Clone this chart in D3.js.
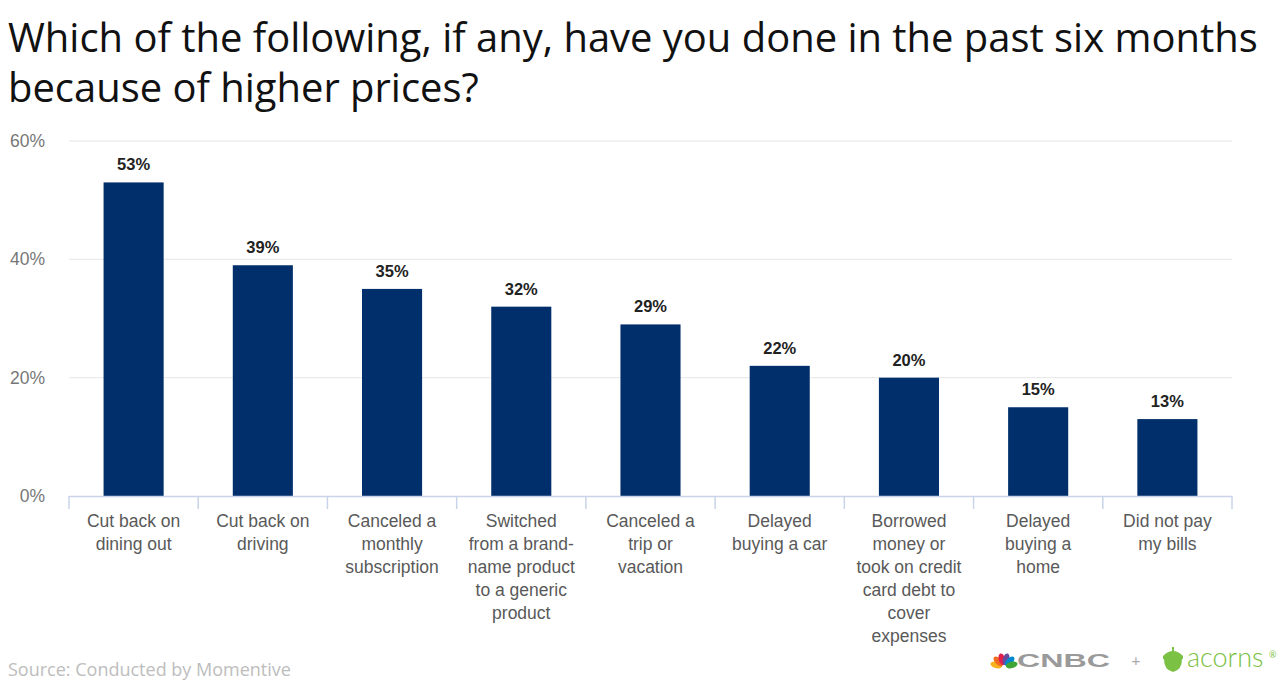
<!DOCTYPE html>
<html><head><meta charset="utf-8">
<script src="https://cdn.jsdelivr.net/npm/d3@7/dist/d3.min.js"></script>
<style>
html,body{margin:0;padding:0;background:#fff;overflow:hidden;}
svg{display:block;}
</style></head>
<body>
<svg id="chart" width="1288" height="680"></svg>
<script>
const titleLines = ["Which of the following, if any, have you done in the past six months", "because of higher prices?"];
const categories = [
  ["Cut back on","dining out"],
  ["Cut back on","driving"],
  ["Canceled a","monthly","subscription"],
  ["Switched","from a brand-","name product","to a generic","product"],
  ["Canceled a","trip or","vacation"],
  ["Delayed","buying a car"],
  ["Borrowed","money or","took on credit","card debt to","cover","expenses"],
  ["Delayed","buying a","home"],
  ["Did not pay","my bills"]
];
const values = [53, 39, 35, 32, 29, 22, 20, 15, 13];
const yTicks = [0, 20, 40, 60];
const sourceText = "Source: Conducted by Momentive";

const svg = d3.select("#chart");
const L = 69, R = 1232, T = 141, B = 496;

const x = d3.scaleBand().domain(d3.range(values.length)).range([L, R]).paddingInner(0.535).paddingOuter(0.2675);
const xEdge = d3.scaleBand().domain(d3.range(values.length)).range([L, R]);
const y = d3.scaleLinear().domain([0, 60]).range([B, T]);

// title
const title = svg.append("g");
titleLines.forEach((t, i) => {
  title.append("text").attr("x", 8).attr("y", 52 + i * 50)
    .attr("font-family", "'Open Sans', Lato, sans-serif").attr("font-size", 36)
    .attr("fill", "#111").text(t);
});
const t0 = title.select("text").node();
const w0 = t0.getComputedTextLength();
title.selectAll("text").attr("font-size", 36 * 1250 / w0);

// gridlines
svg.append("g").selectAll("line").data(yTicks.filter(d => d > 0)).join("line")
  .attr("x1", L).attr("x2", R).attr("y1", d => y(d)).attr("y2", d => y(d))
  .attr("stroke", "#e6e6e6").attr("stroke-width", 1);

// y tick labels
svg.append("g").selectAll("text").data(yTicks).join("text")
  .attr("x", 45).attr("y", d => y(d) + 6).attr("text-anchor", "end")
  .attr("font-family", "'Liberation Sans', Arial, sans-serif").attr("font-size", 17.5)
  .attr("fill", "#777").text(d => d + "%");

// bars
svg.append("g").selectAll("rect").data(values).join("rect")
  .attr("x", (d, i) => x(i)).attr("width", x.bandwidth())
  .attr("y", d => y(d)).attr("height", d => B - y(d)).attr("fill", "#002f6c");

// value labels
svg.append("g").selectAll("text").data(values).join("text")
  .attr("x", (d, i) => x(i) + x.bandwidth() / 2).attr("y", d => y(d) - 12)
  .attr("text-anchor", "middle").attr("font-family", "'Liberation Sans', Arial, sans-serif")
  .attr("font-weight", "bold").attr("font-size", 16.5).attr("fill", "#222").text(d => d + "%");

// baseline and separators
svg.append("line").attr("x1", L).attr("x2", R).attr("y1", B + 0.5).attr("y2", B + 0.5)
  .attr("stroke", "#c9d4e8").attr("stroke-width", 1.5);
const edges = d3.range(values.length).map(i => xEdge(i)).concat([R]);
svg.append("g").selectAll("line").data(edges).join("line")
  .attr("x1", d => d).attr("x2", d => d).attr("y1", B).attr("y2", B + 13)
  .attr("stroke", "#c9d4e8").attr("stroke-width", 1.5);

// category labels
const cg = svg.append("g");
categories.forEach((lines, i) => {
  const tx = cg.append("text").attr("text-anchor", "middle")
    .attr("font-family", "'Liberation Sans', Arial, sans-serif").attr("font-size", 17.5).attr("fill", "#595959");
  lines.forEach((ln, j) => {
    tx.append("tspan").attr("x", xEdge(i) + xEdge.bandwidth() / 2).attr("y", 527 + j * 23).text(ln);
  });
});

// source
svg.append("text").attr("x", 8).attr("y", 676).attr("font-family", "'Open Sans', Lato, sans-serif")
  .attr("font-size", 18).attr("fill", "#bdbdbd").text(sourceText);

// logos
const lg = svg.append("g");
const peacock = ["#f7b11b", "#f26b21", "#e2204c", "#6a4a9b", "#0089d0", "#3fa535"];
const pcx = 1004, pcy = 667;
peacock.forEach((c, i) => {
  const a = -Math.PI + (i + 0.5) * Math.PI / 6;
  lg.append("ellipse").attr("cx", pcx + Math.cos(a) * 8).attr("cy", pcy + Math.sin(a) * 8)
    .attr("rx", 3.2).attr("ry", 6).attr("fill", c)
    .attr("transform", `rotate(${a * 180 / Math.PI + 90},${pcx + Math.cos(a) * 8},${pcy + Math.sin(a) * 8})`);
});
lg.append("text").attr("x", 1017).attr("y", 667).attr("font-family", "'Liberation Sans', Arial, sans-serif")
  .attr("font-weight", "bold").attr("font-size", 19).attr("fill", "#9a9a9a")
  .attr("textLength", 93).attr("lengthAdjust", "spacingAndGlyphs").text("CNBC");
lg.append("text").attr("x", 1136).attr("y", 666).attr("text-anchor", "middle").attr("font-family", "Lato, sans-serif")
  .attr("font-size", 16).attr("fill", "#aaa").text("+");
// acorn
lg.append("path").attr("d", "M1163,656 Q1173,646 1183,656 L1183,659 L1163,659 Z").attr("fill", "#7bc144");
lg.append("path").attr("d", "M1164,659 L1182,659 Q1182,670 1173,672 Q1164,670 1164,659 Z").attr("fill", "#7bc144");
lg.append("rect").attr("x", 1172).attr("y", 647).attr("width", 2).attr("height", 4).attr("fill", "#7bc144");
lg.append("text").attr("x", 1187).attr("y", 667).attr("font-family", "Lato, sans-serif").attr("font-weight", 300)
  .attr("font-size", 27).attr("fill", "#7bc144").text("acorns");
lg.append("text").attr("x", 1269).attr("y", 658).attr("font-family", "Lato, sans-serif")
  .attr("font-size", 9).attr("fill", "#7bc144").text("®");
</script>
</body></html>
